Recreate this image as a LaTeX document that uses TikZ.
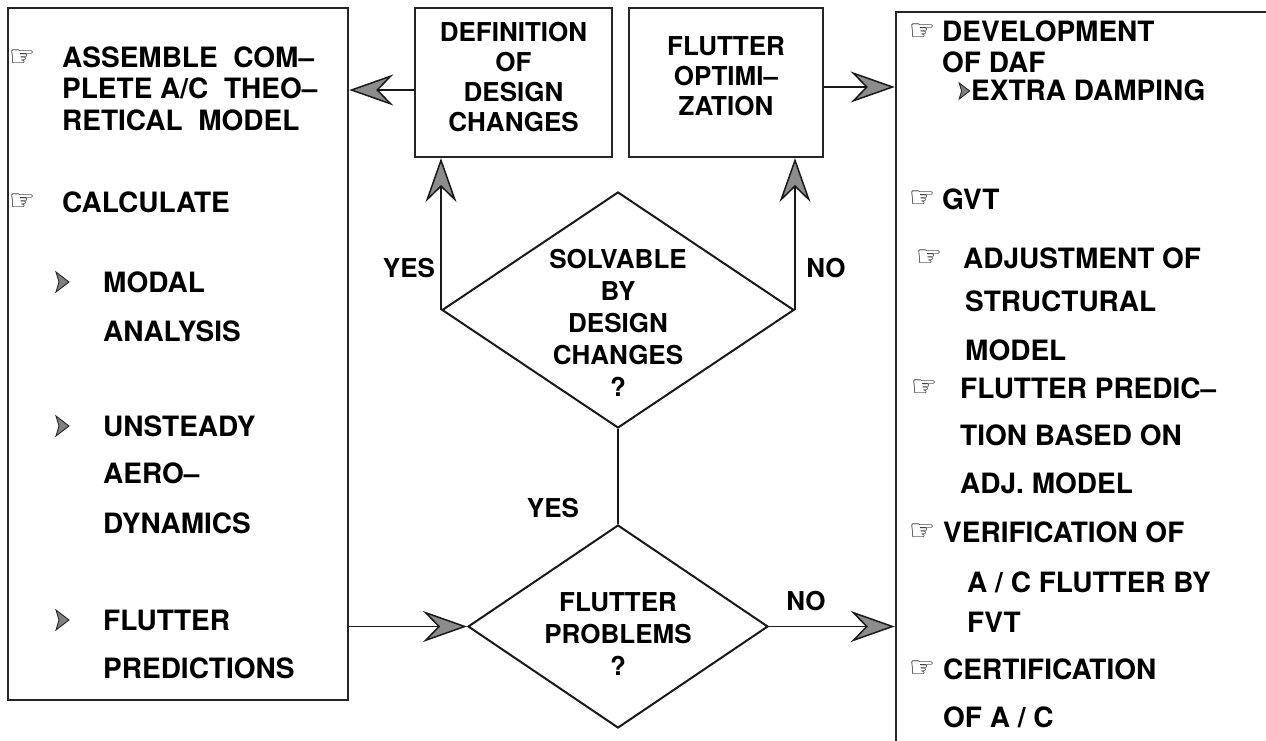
\documentclass[tikz,border=0pt]{standalone}
\usepackage{fontspec}
\setmainfont{TeX Gyre Heros}
\newfontfamily\symfont{DejaVu Sans}
\usetikzlibrary{arrows.meta,shapes.geometric}
\begin{document}
\begin{tikzpicture}[x=1pt,y=-1pt,
  bigbox/.style={draw=black!85, line width=2.5pt, rectangle, inner sep=0pt},
  midbox/.style={draw=black!85, line width=2.2pt, rectangle, inner sep=0pt},
  dia/.style={draw=black!90, line width=2pt, diamond, inner sep=0pt},
  lt/.style={anchor=base west, inner sep=0pt, font=\bfseries\fontsize{28}{32}\selectfont},
  ct/.style={align=center, inner sep=0pt, font=\bfseries\fontsize{26}{30}\selectfont},
  dt/.style={align=center, inner sep=0pt, font=\bfseries\fontsize{26}{32}\selectfont},
  lab/.style={inner sep=0pt, font=\bfseries\fontsize{26}{30}\selectfont},
  hand/.style={anchor=west, inner sep=0pt, font=\symfont\fontsize{29}{29}\selectfont},
  arr/.style={line width=1.5pt, draw=black!90, -{Stealth[length=44pt, width=31pt, inset=15pt, fill=black!45]}},
  conn/.style={line width=2pt, draw=black!90},
  bul/.pic={\filldraw[fill=black!50, draw=black!85, line width=0.9pt] (-6,-10) -- (7,0) -- (-6,10) -- (-3,0) -- cycle;}
]
\clip (0,0) rectangle (1266,741);
\fill[white] (0,0) rectangle (1266,741);

% boxes
\node[bigbox, minimum width=340pt, minimum height=692pt] (lbox) at (178,354) {};
\node[bigbox, minimum width=404pt, minimum height=768pt] (rbox) at (1098,396) {};
\node[midbox, minimum width=197pt, minimum height=149pt] (defbox) at (513.5,82.5) {};
\node[midbox, minimum width=194pt, minimum height=149pt] (optbox) at (726,82.5) {};
\node[dia, minimum width=352pt, minimum height=236pt] (d1) at (618,310) {};
\node[dia, minimum width=300pt, minimum height=203pt] (d2) at (618,626.5) {};

% middle texts
\node[ct] (tdef) at (513.5,77) {DEFINITION\\OF\\DESIGN\\CHANGES};
\node[ct] (topt) at (726,76) {FLUTTER\\OPTIMI–\\ZATION};
\node[dt] (td1) at (618,323) {SOLVABLE\\BY\\DESIGN\\CHANGES\\?};
\node[dt] (td2) at (618,634) {FLUTTER\\PROBLEMS\\?};

% connectors
\coordinate (da) at ([yshift=-7.5pt]defbox.west);
\draw[arr] (da) -- (da -| lbox.east);
\coordinate (oa) at ([yshift=-4.5pt]optbox.east);
\draw[arr] (oa) -- (oa -| rbox.west);
\draw[arr] (d1.west) -- (d1.west |- defbox.south);
\draw[arr] (d1.east) -- (d1.east |- optbox.south);
\draw[conn] (d1.south) -- (d2.north);
\draw[arr] (d2.west -| lbox.east) -- (d2.west);
\draw[arr] (d2.east) -- (d2.east -| rbox.west);

% labels
\node[lab] (yes1) at (409,268) {YES};
\node[lab] (no1) at (826,268) {NO};
\node[lab] (yes2) at (553,508) {YES};
\node[lab] (no2) at (806,601) {NO};

% left box texts
\node[hand] (lh1) at (9,58) {☞};
\node[lt] (l1) at (62,68) {ASSEMBLE\ \ COM–};
\node[lt] (l2) at (62,99) {PLETE A/C\ \ THEO–};
\node[lt] (l3) at (62,131) {RETICAL\ \ MODEL};
\node[hand] (lh2) at (9,202) {☞};
\node[lt] (l4) at (62,212) {CALCULATE};
\pic at (62,282) {bul};
\node[lt] (l5) at (103,292) {MODAL};
\node[lt] (l6) at (103,341) {ANALYSIS};
\pic at (62,426) {bul};
\node[lt] (l7) at (103,436) {UNSTEADY};
\node[lt] (l8) at (103,483) {AERO–};
\node[lt] (l9) at (103,533) {DYNAMICS};
\pic at (62,620) {bul};
\node[lt] (l10) at (103,630) {FLUTTER};
\node[lt] (l11) at (103,678) {PREDICTIONS};

% right box texts
\node[hand] (rh1) at (909,32) {☞};
\node[lt] (r1) at (942,42) {DEVELOPMENT};
\node[lt] (r2) at (942,73) {OF DAF};
\pic[scale=0.8] at (964,91) {bul};
\node[lt] (r3) at (971,101) {EXTRA DAMPING};
\node[hand] (rh2) at (909,199) {☞};
\node[lt] (r4) at (942,209) {GVT};
\node[hand] (rh3) at (916,258) {☞};
\node[lt] (r5) at (963,268) {ADJUSTMENT OF};
\node[lt] (r6) at (965,311) {STRUCTURAL};
\node[lt] (r7) at (965,360) {MODEL};
\node[hand] (rh4) at (911,388) {☞};
\node[lt] (r8) at (960,398) {FLUTTER PREDIC–};
\node[lt] (r9) at (960,445) {TION BASED ON};
\node[lt] (r10) at (960,493) {ADJ. MODEL};
\node[hand] (rh5) at (909,532) {☞};
\node[lt] (r11) at (943,542) {VERIFICATION OF};
\node[lt] (r12) at (967,592) {A / C FLUTTER BY};
\node[lt] (r13) at (967,632) {FVT};
\node[hand] (rh6) at (909,669) {☞};
\node[lt] (r14) at (943,679) {CERTIFICATION};
\node[lt] (r15) at (943,727) {OF A / C};
\end{tikzpicture}
\end{document}
